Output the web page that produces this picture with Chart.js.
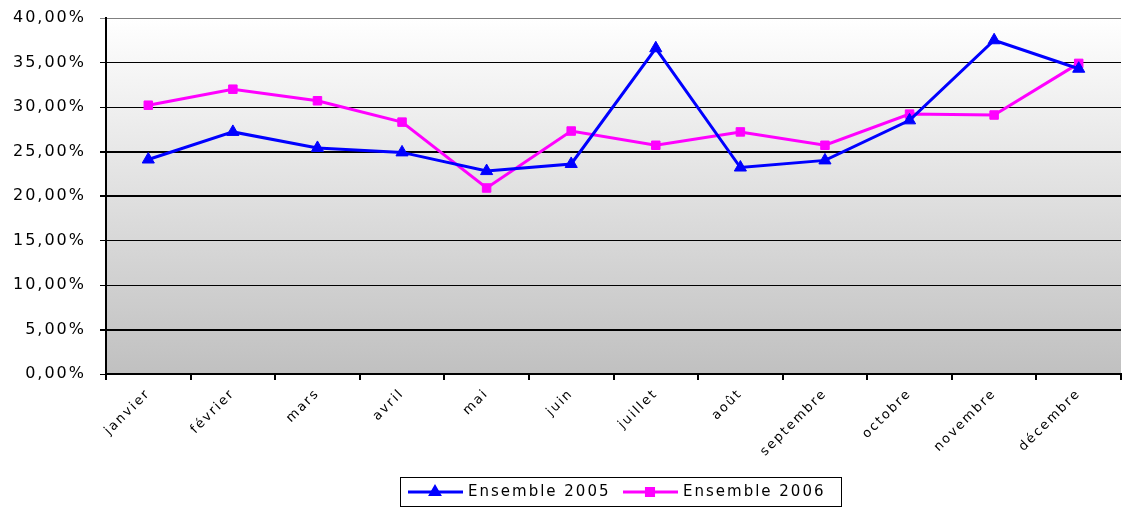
<!DOCTYPE html>
<html>
<head>
<meta charset="utf-8">
<script src="https://cdn.jsdelivr.net/npm/chart.js@4/dist/chart.umd.min.js"></script>
<style>
    html, body { margin: 0; padding: 0; background: #ffffff; }
    #wrap { width: 1122px; height: 507px; }
</style>
</head>
<body>
<div id="wrap"><canvas id="ratioChart"></canvas></div>
<script>
// Monthly rates (in %)
const months = ['janvier', 'février', 'mars', 'avril', 'mai', 'juin', 'juillet', 'août', 'septembre', 'octobre', 'novembre', 'décembre'];
const ensemble2005 = [24.1, 27.2, 25.4, 24.9, 22.8, 23.6, 36.6, 23.2, 24.0, 28.5, 37.5, 34.3];
const ensemble2006 = [30.2, 32.0, 30.7, 28.3, 20.9, 27.3, 25.7, 27.2, 25.7, 29.2, 29.1, 34.9];
const seriesLabels = ['Ensemble 2005', 'Ensemble 2006'];

const SPACING = '2px';

// wide, old-style lettering
const spacingPlugin = {
    id: 'spacing',
    beforeLayout(chart) { chart.ctx.letterSpacing = SPACING; },
    beforeDraw(chart) { chart.ctx.letterSpacing = SPACING; }
};

// grey gradient behind the plot
const plotBackground = {
    id: 'plotBackground',
    beforeDraw(chart) {
        const { ctx, chartArea: a } = chart;
        const g = ctx.createLinearGradient(0, a.top, 0, a.bottom);
        g.addColorStop(0, '#ffffff');
        g.addColorStop(1, '#c0c0c0');
        ctx.save();
        ctx.fillStyle = g;
        ctx.fillRect(a.left, a.top, a.right - a.left, a.bottom - a.top);
        ctx.restore();
    }
};

// boxed legend with line + marker samples
const boxLegend = {
    id: 'boxLegend',
    afterDraw(chart) {
        const ctx = chart.ctx;
        const left = 400, top = 477, w = 441, h = 29;
        ctx.save();
        ctx.letterSpacing = SPACING;
        ctx.strokeStyle = '#000000';
        ctx.lineWidth = 1;
        ctx.strokeRect(left + 0.5, top + 0.5, w, h);
        ctx.font = '15px "DejaVu Sans"';
        ctx.textBaseline = 'middle';
        const cy = top + h / 2 + 0.5;
        const items = [
            { x: 408, color: '#0000ff', style: 'triangle' },
            { x: 623, color: '#ff00ff', style: 'rect' }
        ];
        items.forEach((it, i) => {
            ctx.strokeStyle = it.color;
            ctx.fillStyle = it.color;
            ctx.lineWidth = 3;
            ctx.beginPath();
            ctx.moveTo(it.x, cy);
            ctx.lineTo(it.x + 55, cy);
            ctx.stroke();
            Chart.helpers.drawPoint(ctx, { pointStyle: it.style, radius: 5, borderWidth: 1 }, it.x + 27, cy);
            ctx.fillStyle = '#000000';
            ctx.fillText(seriesLabels[i], it.x + 60, cy);
        });
        ctx.restore();
    }
};

const ctx = document.getElementById('ratioChart').getContext('2d');

new Chart(ctx, {
    type: 'line',
    data: {
        labels: months,
        datasets: [{
            label: seriesLabels[0],
            data: ensemble2005,
            borderColor: '#0000ff',
            backgroundColor: '#0000ff',
            borderWidth: 3,
            pointStyle: 'triangle',
            pointRadius: 7,
            pointBorderWidth: 1,
            tension: 0
        }, {
            label: seriesLabels[1],
            data: ensemble2006,
            borderColor: '#ff00ff',
            backgroundColor: '#ff00ff',
            borderWidth: 3,
            pointStyle: 'rect',
            pointRadius: 6,
            pointBorderWidth: 1,
            tension: 0
        }]
    },
    options: {
        responsive: true,
        maintainAspectRatio: false,
        animation: false,
        layout: { autoPadding: false, padding: { top: 18, right: 1, left: 0, bottom: 0 } },
        plugins: {
            legend: { display: false },
            tooltip: { enabled: false }
        },
        scales: {
            x: {
                offset: true,
                grid: {
                    offset: true,
                    drawOnChartArea: false,
                    drawTicks: true,
                    tickLength: 6,
                    color: '#000000',
                    lineWidth: 2
                },
                border: { color: '#000000', width: 2 },
                ticks: {
                    autoSkip: false,
                    minRotation: 45,
                    maxRotation: 45,
                    padding: 6,
                    color: '#000000',
                    font: { family: 'DejaVu Sans', size: 13 }
                },
                afterFit(axis) { axis.height = 133; }
            },
            y: {
                min: 0,
                max: 40,
                ticks: {
                    stepSize: 5,
                    padding: 14,
                    color: '#000000',
                    font: { family: 'DejaVu Sans', size: 16 },
                    callback: v => v.toFixed(2).replace('.', ',') + '%'
                },
                grid: {
                    tickLength: 6,
                    color: c => (c.tick && c.tick.value === 40) ? '#808080' : '#000000',
                    lineWidth: c => (c.tick && [5, 20, 25].includes(c.tick.value)) ? 2 : 1
                },
                border: { color: '#000000', width: 2 },
                afterFit(axis) {
                    axis.width = 106;
                    axis.paddingTop = 0;
                    axis.paddingBottom = 0;
                }
            }
        }
    },
    plugins: [spacingPlugin, plotBackground, boxLegend]
});
</script>
</body>
</html>
